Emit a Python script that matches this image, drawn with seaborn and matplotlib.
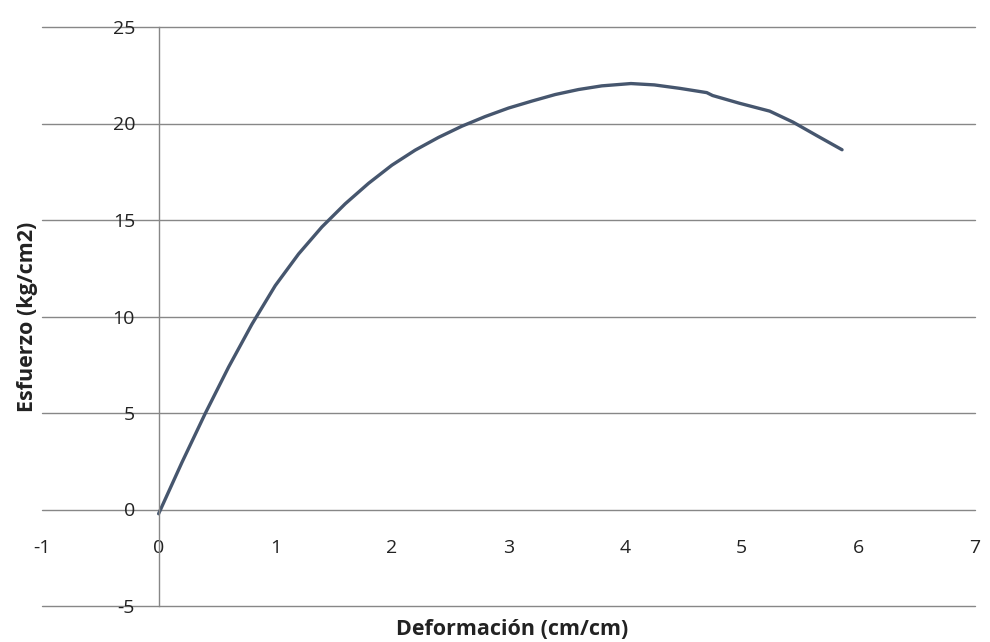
import matplotlib
matplotlib.use("Agg")
import matplotlib.pyplot as plt
import seaborn as sns
import pandas as pd

# Stress-strain readings
deformacion = [0.0, 0.2, 0.4, 0.6, 0.8, 1.0, 1.2, 1.4, 1.6, 1.8, 2.0, 2.2, 2.4, 2.6,
               2.8, 3.0, 3.2, 3.4, 3.6, 3.8, 4.05, 4.25, 4.47, 4.70, 4.75, 4.98, 5.24,
               5.44, 5.65, 5.86]
esfuerzo = [-0.22, 2.44, 4.98, 7.38, 9.60, 11.60, 13.24, 14.64, 15.84, 16.90, 17.84,
            18.62, 19.28, 19.86, 20.36, 20.80, 21.16, 21.50, 21.76, 21.95, 22.07, 22.00,
            21.82, 21.60, 21.45, 21.05, 20.64, 20.07, 19.35, 18.64]

x_ticks = [-1, 0, 1, 2, 3, 4, 5, 6, 7]
y_ticks = [-5, 0, 5, 10, 15, 20, 25]

df = pd.DataFrame({"Deformación (cm/cm)": deformacion, "Esfuerzo (kg/cm2)": esfuerzo})

sns.set_theme(style="white")
plt.rcParams["font.family"] = ["Open Sans", "DejaVu Sans"]

fig = plt.figure(figsize=(9.9, 6.42), dpi=100)
ax = fig.add_axes([42 / 990, 1 - 606 / 642, (975 - 42) / 990, (606 - 27) / 642])

grid_color = "#878787"

sns.lineplot(data=df, x="Deformación (cm/cm)", y="Esfuerzo (kg/cm2)", ax=ax,
             color="#46566e", linewidth=2.4, sort=False, estimator=None)

ax.set_xlim(-1, 7)
ax.set_ylim(-5, 25)
ax.set_xticks(x_ticks)
ax.set_yticks(y_ticks)
ax.set_xticklabels([str(v) for v in x_ticks])
ax.set_yticklabels([str(v) for v in y_ticks])

# horizontal gridlines across the whole plot width
for yv in y_ticks:
    ax.axhline(yv, color=grid_color, linewidth=1.0, zorder=0, clip_on=False)

for side in ["top", "right", "bottom"]:
    ax.spines[side].set_visible(False)
ax.spines["left"].set_position(("data", 0))
ax.spines["left"].set_color(grid_color)
ax.spines["left"].set_linewidth(1.0)
ax.spines["bottom"].set_position(("data", 0))

ax.tick_params(axis="y", length=0, pad=17, labelsize=14, labelcolor="#222222")
ax.tick_params(axis="x", length=0, pad=21, labelsize=14, labelcolor="#222222")

ax.set_xlabel("Deformación (cm/cm)", fontsize=15.5, fontweight="bold", color="#222222")
ax.set_ylabel("Esfuerzo (kg/cm2)", fontsize=15.5, fontweight="bold", color="#222222")
ax.xaxis.set_label_coords(0.504, -0.022)
ax.yaxis.set_label_coords(-0.004, 0.5)

fig.savefig("out.png", dpi=100)
